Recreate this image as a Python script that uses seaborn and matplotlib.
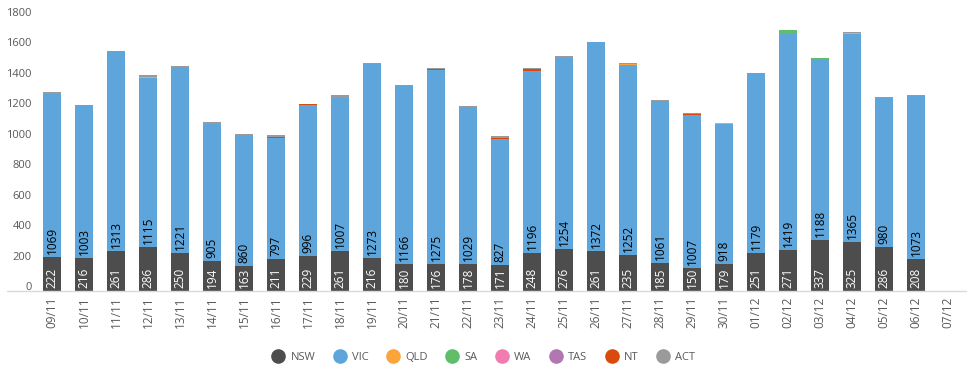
import matplotlib
matplotlib.use("Agg")
import matplotlib.pyplot as plt
import matplotlib.transforms as mtransforms
from matplotlib.lines import Line2D
import numpy as np
import pandas as pd
import seaborn as sns

dates = ["09/11", "10/11", "11/11", "12/11", "13/11", "14/11", "15/11", "16/11", "17/11",
         "18/11", "19/11", "20/11", "21/11", "22/11", "23/11", "24/11", "25/11", "26/11",
         "27/11", "28/11", "29/11", "30/11", "01/12", "02/12", "03/12", "04/12", "05/12",
         "06/12", "07/12"]
nsw = [222, 216, 261, 286, 250, 194, 163, 211, 229, 261, 216, 180, 176, 178, 171, 248, 276,
       261, 235, 185, 150, 179, 251, 271, 337, 325, 286, 208, 0]
vic = [1069, 1003, 1313, 1115, 1221, 905, 860, 797, 996, 1007, 1273, 1166, 1275, 1029, 827,
       1196, 1254, 1372, 1252, 1061, 1007, 918, 1179, 1419, 1188, 1365, 980, 1073, 0]
qld = [0, 0, 0, 8, 0, 0, 0, 0, 0, 0, 0, 0, 0, 0, 0, 0, 0, 0, 4, 0, 0, 7, 0, 0, 0, 7, 0, 0, 0]
sa = [0, 0, 0, 0, 0, 0, 0, 0, 0, 0, 0, 0, 0, 0, 0, 0, 0, 0, 0, 0, 0, 0, 0, 25, 5, 0, 0, 0, 0]
wa = [0] * 29
tas = [0] * 29
nt = [0, 0, 0, 0, 0, 0, 0, 5, 6, 0, 0, 0, 6, 0, 5, 12, 0, 0, 0, 5, 5, 0, 0, 0, 0, 0, 0, 0, 0]
act = [18, 6, 5, 10, 10, 8, 6, 10, 0, 18, 12, 10, 10, 8, 14, 8, 12, 5, 5, 5, 5, 0, 3, 0, 0, 5,
       6, 8, 0]

states = ["NSW", "VIC", "QLD", "SA", "WA", "TAS", "NT", "ACT"]
series = [nsw, vic, qld, sa, wa, tas, nt, act]
colors = ["#4D4D4D", "#5DA5DA", "#FAA43A", "#60BD68", "#F17CB0", "#B276B2", "#D94A0B", "#9A9A9A"]

sns.set_theme(style="white")
plt.rcParams["font.family"] = ["Open Sans", "DejaVu Sans"]

W, H = 978, 377
fig = plt.figure(figsize=(W / 100, H / 100), dpi=100)
left, right, top, bottom = 36, 964, 17, 291
ax = fig.add_axes([left / W, 1 - bottom / H, (right - left) / W, (bottom - top) / H])

vals = np.array(series, dtype=float)
cum = np.cumsum(vals, axis=0)

# draw cumulative layers from top down so lower layers overlay
for k in range(len(states) - 1, -1, -1):
    df = pd.DataFrame({"date": dates, "value": cum[k]})
    sns.barplot(data=df, x="date", y="value", order=dates, color=colors[k],
                saturation=1, width=0.58, errorbar=None, ax=ax, linewidth=0)

# data labels (inside base)
offset = mtransforms.ScaledTranslation(0, 3 / 100, fig.dpi_scale_trans)
for i in range(len(dates)):
    if nsw[i] > 0:
        ax.text(i, 0, str(nsw[i]), rotation=90, ha="center", va="bottom", color="white",
                fontsize=8.5, transform=ax.transData + offset)
    if vic[i] > 0:
        ax.text(i, nsw[i], str(vic[i]), rotation=90, ha="center", va="bottom", color="black",
                fontsize=8.5, transform=ax.transData + offset)

ax.set_ylim(0, 1800)
ax.set_xlim(-0.5, len(dates) - 0.5)
ax.set_yticks(np.arange(0, 1801, 200))
ax.set_xlabel("")
ax.set_ylabel("")
for s in ax.spines.values():
    s.set_visible(False)
ax.tick_params(axis="both", length=0, colors="#595959", labelsize=8)
ax.tick_params(axis="y", pad=3)
ax.tick_params(axis="x", pad=4, labelsize=8.5)
plt.setp(ax.get_xticklabels(), rotation=90)
up = mtransforms.ScaledTranslation(0, 5 / 100, fig.dpi_scale_trans)
for lab in ax.get_yticklabels():
    lab.set_transform(lab.get_transform() + up)

# axis line
x0 = (7 - left) / (right - left)
x1 = (966 - left) / (right - left)
ax.plot([x0, x1], [0, 0], transform=ax.transAxes, color="#D9D9D9", lw=1, clip_on=False)

handles = [Line2D([], [], marker="o", linestyle="none", markersize=9.5,
                  markerfacecolor=c, markeredgecolor=c) for c in colors]
fig.legend(handles, states, loc="center", bbox_to_anchor=(484 / W, 1 - 357 / H), ncol=8,
           frameon=False, fontsize=8, labelcolor="#595959", handletextpad=0.6,
           columnspacing=1.7, handlelength=1.0)

fig.savefig("out.png", dpi=100)
